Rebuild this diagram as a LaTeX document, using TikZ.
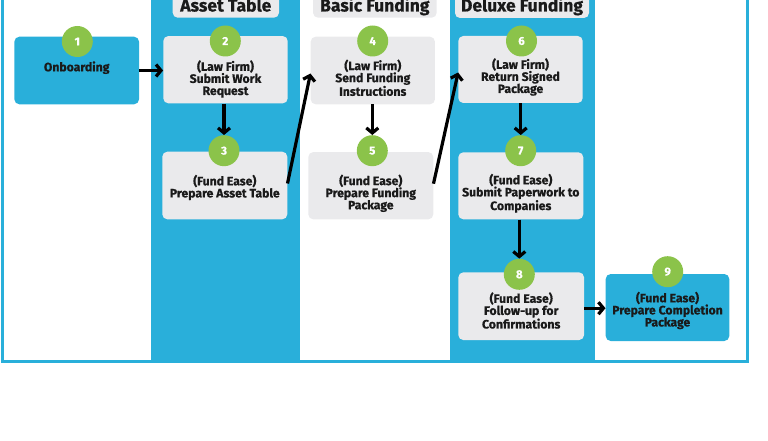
\documentclass[tikz,border=0pt]{standalone}
\usepackage{fontspec}
\setmainfont{Fira Sans}[BoldFeatures={FakeBold=0.6}]
\usetikzlibrary{arrows.meta,calc}
\definecolor{cyanc}{HTML}{29AFDA}
\definecolor{greyc}{HTML}{EAEAEC}
\definecolor{greenc}{HTML}{8BC34A}
\definecolor{inkc}{HTML}{1A1A1A}
\tikzset{
  stepbox/.style={draw=none, fill=greyc, rounded corners=5pt, inner sep=0pt},
  cyanbox/.style={draw=none, fill=cyanc, rounded corners=5pt, inner sep=0pt},
  txt/.style={text=inkc, font=\bfseries\fontsize{12.2}{12.1}\selectfont, align=center, inner sep=0pt},
  num/.style={circle, fill=greenc, minimum size=31pt, inner sep=0pt, text=white, font=\bfseries\fontsize{11.5}{12}\selectfont},
  hdrtxt/.style={text=inkc, font=\bfseries\fontsize{17.5}{18}\selectfont, anchor=base, inner sep=0pt},
  flow/.style={draw=black, line width=3.2pt, -{Straight Barb[length=5pt,width=12pt,line width=3.2pt]}},
}
\begin{document}
\begin{tikzpicture}[x=1pt,y=-1pt]
\useasboundingbox (0,0) rectangle (768,441);
% columns
\fill[cyanc] (150.7,-20) rectangle (300,362);
\fill[cyanc] (450,-20) rectangle (594.5,362);
\draw[cyanc, line width=3pt] (2.5,-20) rectangle (747.5,361.5);
% headers
\fill[greyc, rounded corners=5pt] (172.7,-14) rectangle (279,17.7);
\fill[greyc, rounded corners=5pt] (313,-14) rectangle (436.7,17.7);
\fill[greyc, rounded corners=5pt] (455,-14) rectangle (589,18);
\node[hdrtxt] (h1) at (225.8,11.5) {Asset Table};
\node[hdrtxt] (h2) at (374.8,11.5) {Basic Funding};
\node[hdrtxt] (h3) at (522,11.5) {Deluxe Funding};
% boxes
\node[cyanbox, minimum width=124.7pt, minimum height=67.6pt] (b1) at (76.7,70.5) {};
\node[stepbox, minimum width=124.4pt, minimum height=67.3pt] (b2) at (225.5,69.7) {};
\node[stepbox, minimum width=125pt, minimum height=67.6pt] (b3) at (224.8,185.5) {};
\node[stepbox, minimum width=124.3pt, minimum height=67.6pt] (b4) at (372.8,70.5) {};
\node[stepbox, minimum width=125pt, minimum height=67.3pt] (b5) at (370.8,185.7) {};
\node[stepbox, minimum width=124.4pt, minimum height=67pt] (b6) at (520.5,69.5) {};
\node[stepbox, minimum width=125pt, minimum height=67pt] (b7) at (520.8,185.8) {};
\node[stepbox, minimum width=125.7pt, minimum height=67.7pt] (b8) at (521.2,306.2) {};
\node[cyanbox, minimum width=123.6pt, minimum height=67pt] (b9) at (667.5,307.5) {};
% texts
\node[txt] (t1) at (76.7,67.7) {Onboarding};
\node[txt] (t2) at (225.5,79) {(Law Firm)\\Submit Work\\Request};
\node[txt] (t3) at (224.8,187.5) {(Fund Ease)\\Prepare Asset Table};
\node[txt] (t4) at (372.8,77.8) {(Law Firm)\\Send Funding\\Instructions};
\node[txt] (t5) at (370.8,193.3) {(Fund Ease)\\Prepare Funding\\Package};
\node[txt] (t6) at (520.5,77) {(Law Firm)\\Return Signed\\Package};
\node[txt] (t7) at (520.8,193.3) {(Fund Ease)\\Submit Paperwork to\\Companies};
\node[txt] (t8) at (521.2,310.5) {(Fund Ease)\\Follow-up for\\Confirmations};
\node[txt] (t9) at (667.5,310.5) {(Fund Ease)\\Prepare Completion\\Package};
% number circles
\node[num] (c1) at (77.3,41.5) {1};
\node[num] (c2) at (225.3,41) {2};
\node[num] (c3) at (224,150.7) {3};
\node[num] (c4) at (372.7,41) {4};
\node[num] (c5) at (372.3,150.7) {5};
\node[num] (c6) at (521.5,41) {6};
\node[num] (c7) at (520.7,150.7) {7};
\node[num] (c8) at (519.3,274.3) {8};
\node[num] (c9) at (667.7,271.7) {9};
% connector end points
\coordinate (e8) at ($(b8.east)+(0,2)$);
\coordinate (s3) at ($(b3.east)+(0,-2)$);
\coordinate (s5) at ($(b5.east)+(0,-2)$);
\coordinate (w4) at ($(b4.west)+(0,3)$);
\coordinate (w6) at ($(b6.west)+(0,3)$);
% connectors
\draw[flow] (b1.east) -- (b1.east -| b2.west);
\draw[flow] (b2.south -| c3.north) -- (c3.north);
\draw[flow] (s3) -- (w4);
\draw[flow] (b4.south -| c5.north) -- (c5.north);
\draw[flow] (s5) -- (w6);
\draw[flow] (b6.south -| c7.north) -- (c7.north);
\draw[flow] (b7.south -| c8.north) -- (c8.north);
\draw[flow] (e8) -- (e8 -| b9.west);
\end{tikzpicture}
\end{document}
